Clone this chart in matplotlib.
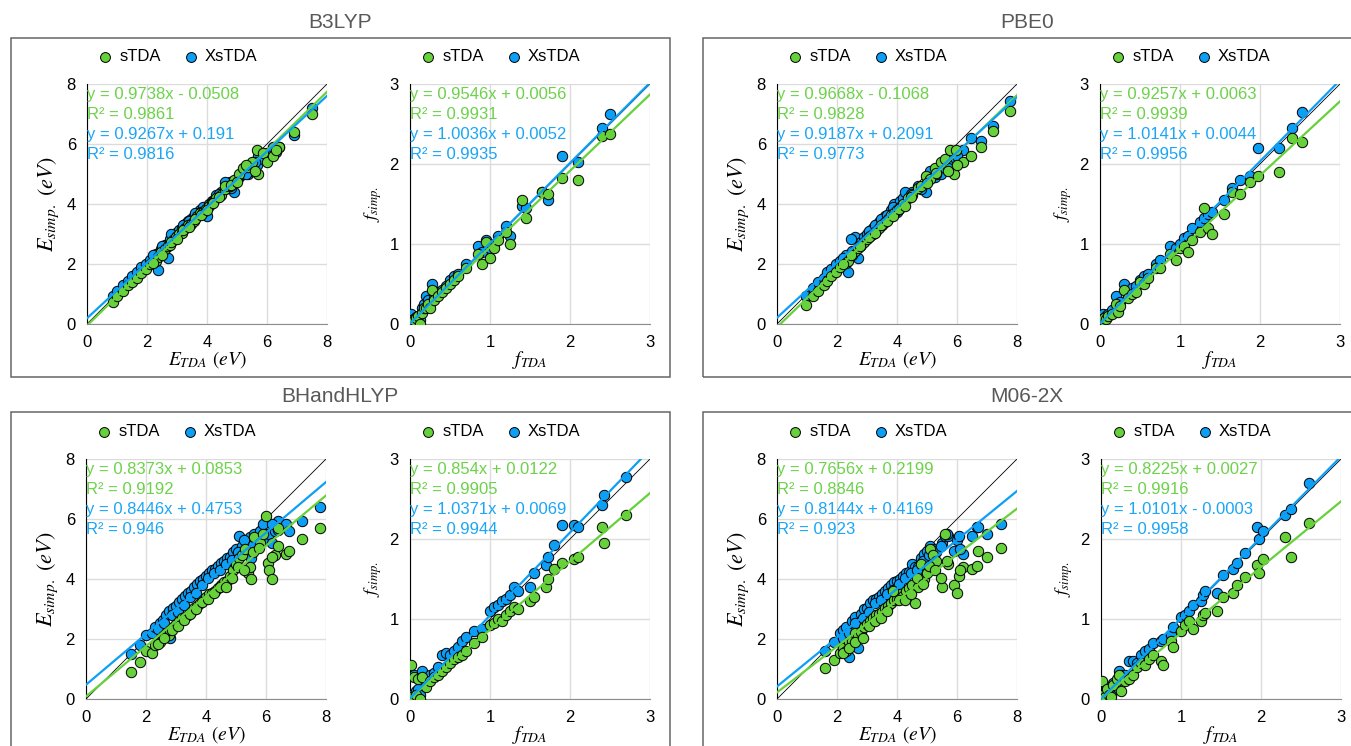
import matplotlib.pyplot as plt
from matplotlib.patches import Rectangle

plt.rcParams['font.family'] = ['Liberation Sans', 'DejaVu Sans']
plt.rcParams['mathtext.fontset'] = 'stix'

functionals = ['B3LYP', 'PBE0', 'BHandHLYP', 'M06-2X']
series_names = ['sTDA', 'XsTDA']

# ---- B3LYP ----
b3lyp_e_tda = [0.85, 1.0, 1.2, 1.35, 1.5, 1.65, 1.8, 1.95, 2.1, 2.3, 2.35, 2.45, 2.6, 2.7, 2.75, 2.85,
               2.95, 3.05, 3.15, 3.25, 3.35, 3.45, 3.55, 3.65, 3.75, 3.85, 3.95, 4.05, 4.15, 4.3, 4.45,
               4.6, 4.75, 4.9, 5.05, 5.2, 5.35, 5.5, 5.65, 5.7, 5.85, 6.0, 6.2, 6.4, 6.9, 7.5,
               2.2, 2.5, 2.8, 3.0, 3.2, 3.4, 3.6, 3.8, 4.0, 4.2, 4.4, 4.6, 4.8, 5.0, 5.3, 5.6, 6.3]
b3lyp_e_stda = [0.75, 0.95, 1.1, 1.3, 1.4, 1.55, 1.7, 1.85, 2.0, 2.1, 2.25, 2.4, 2.5, 2.6, 2.65, 2.8,
                2.9, 3.0, 3.05, 3.2, 3.3, 3.35, 3.45, 3.6, 3.7, 3.75, 3.85, 3.95, 4.05, 4.2, 4.3,
                4.5, 4.6, 4.8, 5.0, 5.2, 5.25, 5.4, 5.8, 5.0, 5.7, 5.4, 5.6, 5.9, 6.4, 7.0,
                2.05, 2.3, 2.75, 2.85, 3.15, 3.25, 3.5, 3.65, 3.8, 4.05, 4.25, 4.6, 4.65, 4.75, 5.3, 5.1, 5.8]
b3lyp_e_xstda = [0.95, 1.1, 1.3, 1.45, 1.6, 1.75, 1.9, 2.0, 2.15, 2.35, 1.8, 2.5, 2.65, 2.2, 2.85, 2.95,
                 3.05, 3.15, 3.2, 3.35, 3.45, 3.5, 3.6, 3.7, 3.8, 3.9, 3.65, 4.0, 4.1, 4.3, 4.4,
                 4.5, 4.75, 4.4, 4.9, 5.0, 5.0, 5.1, 5.3, 5.6, 5.5, 5.7, 5.9, 5.9, 6.3, 7.2,
                 2.3, 2.6, 3.0, 2.95, 3.3, 3.45, 3.7, 3.75, 3.6, 4.1, 4.35, 4.75, 4.55, 4.85, 5.0, 5.4, 5.75]
b3lyp_f_tda = [0.0, 0.01, 0.02, 0.03, 0.05, 0.07, 0.1, 0.12, 0.15, 0.18, 0.2, 0.22, 0.25, 0.28, 0.3,
               0.35, 0.4, 0.45, 0.5, 0.55, 0.6, 0.7, 0.85, 0.9, 0.95, 1.0, 1.05, 1.1, 1.2, 1.25, 1.4,
               1.45, 1.65, 1.72, 1.9, 2.1, 2.4, 2.5]
b3lyp_f_stda = [0.0, 0.01, 0.02, 0.05, 0.05, 0.08, 0.1, 0.0, 0.14, 0.2, 0.2, 0.25, 0.2, 0.42, 0.3,
                0.35, 0.4, 0.45, 0.5, 0.55, 0.6, 0.7, 0.88, 0.75, 1.02, 0.82, 0.95, 1.05, 1.15, 1.0, 1.55,
                1.32, 1.65, 1.62, 1.83, 1.8, 2.35, 2.38]
b3lyp_f_xstda = [0.0, 0.12, 0.03, 0.05, 0.06, 0.09, 0.1, 0.05, 0.2, 0.25, 0.35, 0.3, 0.25, 0.5, 0.32,
                 0.4, 0.42, 0.47, 0.55, 0.6, 0.62, 0.75, 0.98, 0.9, 1.05, 0.95, 1.0, 1.1, 1.22, 1.1, 1.48,
                 1.45, 1.65, 1.55, 2.1, 2.02, 2.45, 2.63]

# ---- PBE0 ----
pbe0_e_tda = [0.95, 1.2, 1.35, 1.55, 1.65, 1.8, 1.95, 2.1, 2.3, 2.35, 2.5, 2.6, 2.7, 2.8, 2.9, 3.0,
              3.1, 3.2, 3.3, 3.4, 3.5, 3.6, 3.7, 3.8, 3.9, 4.0, 4.1, 4.2, 4.35, 4.5, 4.7, 4.95, 5.1,
              5.25, 5.45, 5.6, 5.75, 5.9, 5.95, 6.2, 6.45, 6.8, 7.2, 7.75,
              2.2, 2.45, 2.75, 3.05, 3.25, 3.45, 3.65, 3.85, 4.05, 4.25, 4.45, 4.8, 5.0, 5.3, 5.7, 6.0]
pbe0_e_stda = [0.65, 0.95, 1.1, 1.3, 1.45, 1.6, 1.75, 1.9, 2.05, 2.1, 2.3, 2.45, 2.55, 2.65, 2.75, 2.85,
               2.95, 3.0, 3.1, 3.2, 3.3, 3.4, 3.5, 3.65, 3.7, 3.8, 3.9, 4.0, 4.2, 4.3, 4.55, 4.95, 4.85,
               5.2, 5.4, 5.5, 5.8, 5.0, 5.8, 5.4, 5.6, 5.9, 6.45, 7.1,
               2.0, 2.3, 2.6, 2.9, 3.05, 3.3, 3.45, 3.6, 3.85, 3.95, 4.25, 4.6, 4.7, 5.05, 5.1, 5.3]
pbe0_e_xstda = [0.95, 1.2, 1.4, 1.55, 1.75, 1.85, 2.0, 2.1, 2.3, 1.75, 2.45, 2.9, 2.2, 2.75, 2.9, 3.0,
                3.1, 3.2, 3.3, 3.4, 3.5, 3.6, 3.65, 3.8, 4.0, 3.75, 4.1, 4.2, 4.35, 4.4, 4.6, 4.4, 5.1,
                4.9, 5.0, 5.2, 5.3, 5.6, 5.5, 5.8, 6.2, 6.1, 6.6, 7.45,
                2.2, 2.85, 2.6, 3.1, 3.3, 3.5, 3.65, 3.9, 3.85, 4.4, 4.35, 4.5, 4.9, 5.0, 5.2, 5.6]
pbe0_f_tda = [0.0, 0.01, 0.02, 0.04, 0.05, 0.08, 0.1, 0.15, 0.2, 0.22, 0.25, 0.3, 0.35, 0.4, 0.45, 0.5,
              0.55, 0.6, 0.7, 0.75, 0.88, 0.95, 1.0, 1.05, 1.1, 1.15, 1.25, 1.3, 1.35, 1.4, 1.55, 1.65,
              1.75, 1.88, 1.97, 2.24, 2.4, 2.53]
pbe0_f_stda = [0.0, 0.02, 0.03, 0.05, 0.08, 0.06, 0.1, 0.12, 0.25, 0.15, 0.22, 0.42, 0.32, 0.38, 0.4, 0.52,
               0.5, 0.58, 0.7, 0.7, 0.88, 0.8, 0.95, 0.98, 0.9, 1.05, 1.15, 1.45, 1.2, 1.12, 1.38, 1.65,
               1.62, 1.78, 1.85, 1.9, 2.32, 2.28]
pbe0_f_xstda = [0.0, 0.1, 0.05, 0.12, 0.08, 0.1, 0.12, 0.18, 0.35, 0.22, 0.28, 0.5, 0.35, 0.45, 0.48, 0.55,
                0.6, 0.62, 0.75, 0.8, 0.98, 0.95, 1.0, 1.08, 1.1, 1.2, 1.28, 1.32, 1.38, 1.4, 1.55, 1.7,
                1.8, 1.85, 2.2, 2.2, 2.45, 2.65]

# ---- BHandHLYP ----
bhh_e_tda = [1.5, 1.8, 2.0, 2.2, 2.3, 2.45, 2.55, 2.65, 2.75, 2.8, 2.9, 3.0, 3.1, 3.2, 3.3, 3.4, 3.5,
             3.6, 3.7, 3.8, 3.9, 4.0, 4.1, 4.2, 4.3, 4.4, 4.5, 4.6, 4.7, 4.8, 4.9, 5.0, 5.1, 5.2, 5.3,
             5.4, 5.45, 5.5, 5.6, 5.8, 5.9, 6.0, 6.05, 6.1, 6.2, 6.3, 6.4, 6.65, 6.75, 7.2, 7.8,
             2.4, 2.6, 2.85, 3.05, 3.25, 3.45, 3.65, 3.85, 4.05, 4.25, 4.45, 4.65, 4.85, 5.05, 5.25, 5.55,
             5.75, 6.2, 6.4]
bhh_e_stda = [0.9, 1.25, 1.6, 1.55, 1.8, 1.9, 2.1, 2.2, 2.15, 2.3, 2.4, 2.5, 2.6, 2.7, 2.75, 2.8, 2.9,
              3.05, 3.1, 3.2, 3.3, 3.4, 3.5, 3.55, 3.6, 3.7, 3.8, 3.9, 3.95, 4.1, 4.3, 4.5, 4.7, 4.8, 5.0,
              4.2, 4.4, 4.0, 5.4, 5.2, 5.5, 6.1, 4.55, 4.3, 4.0, 4.8, 5.7, 4.85, 4.95, 5.35, 5.7,
              1.85, 2.05, 2.3, 2.45, 2.65, 2.85, 3.0, 3.25, 3.35, 3.55, 3.75, 3.75, 4.05, 4.4, 4.3, 4.9,
              5.05, 4.75, 5.1]
bhh_e_xstda = [1.5, 1.8, 2.15, 2.2, 2.4, 2.55, 2.65, 2.8, 2.95, 2.05, 3.05, 3.1, 3.25, 3.35, 3.45, 3.55, 3.6,
               3.75, 3.85, 3.95, 4.0, 4.1, 4.2, 4.3, 4.35, 4.45, 4.55, 4.6, 4.7, 4.75, 4.9, 5.0, 5.45, 5.1, 5.3,
               5.2, 5.4, 4.7, 5.5, 5.6, 5.85, 5.5, 5.3, 5.5, 5.2, 5.6, 5.95, 5.85, 5.6, 5.95, 6.4,
               2.35, 2.55, 2.8, 2.9, 3.15, 3.4, 3.55, 3.8, 4.05, 4.2, 4.3, 4.5, 4.65, 4.9, 5.3, 5.15,
               5.3, 5.85, 5.65]
bhh_f_tda = [0.0, 0.01, 0.03, 0.05, 0.08, 0.1, 0.12, 0.15, 0.2, 0.25, 0.3, 0.35, 0.4, 0.45, 0.5, 0.55,
             0.6, 0.65, 0.7, 0.8, 0.9, 1.0, 1.05, 1.1, 1.15, 1.2, 1.25, 1.3, 1.35, 1.5, 1.55, 1.7, 1.72,
             1.8, 1.9, 2.05, 2.1, 2.4, 2.42, 2.7]
bhh_f_stda = [0.0, 0.42, 0.02, 0.28, 0.05, 0.25, 0.0, 0.28, 0.15, 0.22, 0.28, 0.3, 0.35, 0.4, 0.45, 0.5,
              0.52, 0.55, 0.6, 0.7, 0.78, 0.92, 0.95, 1.0, 0.98, 1.05, 1.1, 1.15, 1.12, 1.22, 1.28, 1.4, 1.5,
              1.62, 1.7, 1.75, 1.78, 2.15, 1.95, 2.3]
bhh_f_xstda = [0.0, 0.05, 0.05, 0.3, 0.1, 0.12, 0.05, 0.35, 0.2, 0.3, 0.33, 0.4, 0.55, 0.58, 0.55, 0.6,
               0.65, 0.72, 0.78, 0.85, 0.88, 1.1, 1.15, 1.18, 1.22, 1.25, 1.3, 1.4, 1.35, 1.4, 1.57, 1.68, 1.78,
               1.92, 2.18, 2.18, 2.15, 2.42, 2.55, 2.78]

# ---- M06-2X ----
m06_e_tda = [1.6, 1.9, 2.1, 2.2, 2.3, 2.4, 2.5, 2.6, 2.7, 2.8, 2.9, 3.0, 3.1, 3.2, 3.3, 3.4, 3.5, 3.6,
             3.7, 3.8, 3.9, 4.0, 4.1, 4.2, 4.3, 4.4, 4.5, 4.6, 4.7, 4.8, 4.9, 5.0, 5.1, 5.2, 5.3, 5.5,
             5.6, 5.7, 5.9, 6.0, 6.05, 6.2, 6.5, 6.65, 6.7, 7.0, 7.45,
             2.2, 2.4, 2.6, 2.85, 3.05, 3.25, 3.45, 3.65, 3.85, 4.05, 4.25, 4.45, 4.65, 4.85, 5.05,
             5.25, 5.45, 5.65, 6.1]
m06_e_stda = [1.05, 1.3, 1.55, 1.7, 1.6, 1.9, 1.95, 2.2, 2.1, 2.25, 2.4, 2.5, 2.6, 2.7, 2.8, 2.85, 2.9, 3.05,
              3.1, 3.2, 3.3, 3.35, 3.5, 3.45, 3.6, 3.7, 3.8, 3.2, 3.75, 4.5, 4.0, 4.2, 5.0, 4.8, 4.6, 3.75,
              5.5, 4.5, 3.8, 3.55, 4.1, 4.4, 4.35, 4.45, 4.95, 4.75, 5.05,
              1.55, 1.7, 1.9, 2.05, 2.45, 2.6, 2.7, 2.95, 3.6, 3.3, 3.3, 3.5, 4.05, 3.85, 4.45,
              4.3, 4.05, 4.6, 4.3]
m06_e_xstda = [1.6, 1.9, 2.2, 2.3, 2.4, 1.4, 2.6, 2.75, 1.7, 2.85, 3.0, 3.05, 3.2, 3.3, 3.35, 3.4, 3.5, 3.6,
               3.7, 3.8, 3.9, 3.95, 4.0, 4.1, 4.2, 4.25, 4.5, 4.4, 4.4, 4.7, 4.85, 4.95, 5.1, 5.0, 4.9, 5.2,
               5.45, 5.45, 4.95, 5.3, 5.45, 4.85, 5.45, 5.75, 5.75, 5.5, 5.85,
               2.05, 2.2, 2.55, 2.7, 2.9, 3.2, 3.3, 3.5, 3.65, 3.85, 4.05, 4.2, 4.3, 4.6, 4.8,
               4.95, 5.1, 5.5, 5.0]
m06_f_tda = [0.0, 0.01, 0.03, 0.05, 0.08, 0.1, 0.12, 0.15, 0.2, 0.22, 0.25, 0.3, 0.35, 0.4, 0.45, 0.5,
             0.55, 0.6, 0.65, 0.75, 0.77, 0.88, 0.9, 1.0, 1.05, 1.1, 1.15, 1.25, 1.28, 1.3, 1.45, 1.52,
             1.65, 1.7, 1.8, 1.95, 1.97, 2.02, 2.3, 2.38, 2.6]
m06_f_stda = [0.0, 0.22, 0.05, 0.02, 0.12, 0.05, 0.03, 0.18, 0.25, 0.3, 0.1, 0.22, 0.25, 0.3, 0.4, 0.45,
              0.42, 0.5, 0.55, 0.48, 0.42, 0.72, 0.65, 0.85, 0.92, 0.98, 0.88, 0.98, 1.05, 1.08, 1.1, 1.28,
              1.32, 1.42, 1.52, 1.68, 1.58, 1.75, 2.02, 1.78, 2.2]
m06_f_xstda = [0.0, 0.02, 0.05, 0.08, 0.12, 0.1, 0.05, 0.2, 0.22, 0.35, 0.3, 0.3, 0.48, 0.48, 0.45, 0.55,
               0.6, 0.62, 0.7, 0.72, 0.75, 0.8, 0.9, 1.02, 1.05, 1.1, 1.18, 1.22, 1.3, 1.35, 1.32, 1.55,
               1.62, 1.7, 1.82, 2.15, 2.0, 2.1, 2.3, 2.38, 2.7]

# linear fits (slope, intercept, R2) for sTDA and XsTDA
b3lyp_e_fit = [(0.9738, -0.0508, 0.9861), (0.9267, 0.191, 0.9816)]
b3lyp_f_fit = [(0.9546, 0.0056, 0.9931), (1.0036, 0.0052, 0.9935)]
pbe0_e_fit = [(0.9668, -0.1068, 0.9828), (0.9187, 0.2091, 0.9773)]
pbe0_f_fit = [(0.9257, 0.0063, 0.9939), (1.0141, 0.0044, 0.9956)]
bhh_e_fit = [(0.8373, 0.0853, 0.9192), (0.8446, 0.4753, 0.946)]
bhh_f_fit = [(0.854, 0.0122, 0.9905), (1.0371, 0.0069, 0.9944)]
m06_e_fit = [(0.7656, 0.2199, 0.8846), (0.8144, 0.4169, 0.923)]
m06_f_fit = [(0.8225, 0.0027, 0.9916), (1.0101, -0.0003, 0.9958)]

energy_data = [(b3lyp_e_tda, b3lyp_e_stda, b3lyp_e_xstda, b3lyp_e_fit),
               (pbe0_e_tda, pbe0_e_stda, pbe0_e_xstda, pbe0_e_fit),
               (bhh_e_tda, bhh_e_stda, bhh_e_xstda, bhh_e_fit),
               (m06_e_tda, m06_e_stda, m06_e_xstda, m06_e_fit)]
osc_data = [(b3lyp_f_tda, b3lyp_f_stda, b3lyp_f_xstda, b3lyp_f_fit),
            (pbe0_f_tda, pbe0_f_stda, pbe0_f_xstda, pbe0_f_fit),
            (bhh_f_tda, bhh_f_stda, bhh_f_xstda, bhh_f_fit),
            (m06_f_tda, m06_f_stda, m06_f_xstda, m06_f_fit)]

marker_colors = ['#66D13A', '#0C9FF5']
text_colors = ['#6CD24A', '#1AA6F5']

W, H = 1351, 746
fig = plt.figure(figsize=(W / 100, H / 100), dpi=100)

# panel boxes (pixel coords: left, top) and axis origins
panel_boxes = [(11, 38), (703, 38), (11, 412), (703, 412)]
title_pos = [(340, 22), (1027, 22), (340, 396), (1027, 396)]
axes_left = [(87, 410), (777, 1100), (86, 410), (777, 1101)]
axes_top = [84, 84, 459, 459]


def px_axes(x0, y0, w=240, h=240):
    return fig.add_axes([x0 / W, 1 - (y0 + h) / H, w / W, h / H])


def fmt_eq(m, b):
    sign = '-' if b < 0 else '+'
    return f'y = {m:g}x {sign} {abs(b):g}'


def draw_scatter(ax, xs, y_s, y_x, fits, vmax, xlabel, ylabel, lab_size, ylab_size):
    ax.set_xlim(0, vmax)
    ax.set_ylim(0, vmax)
    ax.set_xticks(range(0, vmax + 1, 2 if vmax == 8 else 1))
    ax.set_yticks(range(0, vmax + 1, 2 if vmax == 8 else 1))
    ax.grid(True, color='#dcdcdc', lw=1)
    ax.set_axisbelow(True)
    ax.tick_params(length=0, labelsize=12, pad=8)
    ax.spines['left'].set_color('black')
    ax.spines['bottom'].set_color('#8c8c8c')
    ax.spines['top'].set_visible(False)
    ax.spines['right'].set_visible(False)
    ax.plot([0, vmax], [0, vmax], color='black', lw=0.6, zorder=2)
    ax.scatter(xs, y_x, s=56, color=marker_colors[1], edgecolor='black', lw=0.7,
               zorder=3, label=series_names[1])
    ax.scatter(xs, y_s, s=56, color=marker_colors[0], edgecolor='black', lw=0.7,
               zorder=3, label=series_names[0])
    for i, (m, b, r2) in enumerate(fits):
        ax.plot([0, vmax], [b, m * vmax + b], color=marker_colors[i], lw=1.6, zorder=4)
    lines = []
    for i, (m, b, r2) in enumerate(fits):
        lines.append((fmt_eq(m, b), text_colors[i]))
        lines.append((f'R² = {r2:g}', text_colors[i]))
    for k, (txt, c) in enumerate(lines):
        ax.text(0.0, 0.955 - k * 0.083, txt, transform=ax.transAxes, color=c,
                fontsize=12, va='center', ha='left', zorder=5)
    h, l = ax.get_legend_handles_labels()
    ax.legend(h[::-1], l[::-1], loc='center', bbox_to_anchor=(0.375, 1.115), ncol=2,
              frameon=False, fontsize=12, handletextpad=0.35, handlelength=1.0,
              columnspacing=1.3, markerscale=0.95, borderaxespad=0)
    ax.set_xlabel(xlabel, fontsize=lab_size, labelpad=-1)
    ax.set_ylabel(ylabel, fontsize=ylab_size, labelpad=4)


for p in range(4):
    bx, by = panel_boxes[p]
    fig.patches.append(Rectangle((bx / W, 1 - 760 / H if p > 1 else 1 - 377 / H),
                                 (990 if p % 2 else 659) / W,
                                 ((760 - by) if p > 1 else (377 - by)) / H,
                                 transform=fig.transFigure, fill=False,
                                 edgecolor='#666666', lw=1.1))
    tx, ty = title_pos[p]
    fig.text(tx / W, 1 - ty / H, functionals[p], ha='center', va='center',
             fontsize=15, color='#595959')

    xe, ye_s, ye_x, fe = energy_data[p]
    ax1 = px_axes(axes_left[p][0], axes_top[p])
    draw_scatter(ax1, xe, ye_s, ye_x, fe, 8,
                 r'$E_{TDA}$ $(eV)$', r'$E_{simp.}$ $(eV)$', 14, 16)

    xf, yf_s, yf_x, ff = osc_data[p]
    ax2 = px_axes(axes_left[p][1], axes_top[p])
    draw_scatter(ax2, xf, yf_s, yf_x, ff, 3,
                 r'$f_{TDA}$', r'$f_{simp.}$', 14, 13)

fig.savefig('out.png', dpi=100)
